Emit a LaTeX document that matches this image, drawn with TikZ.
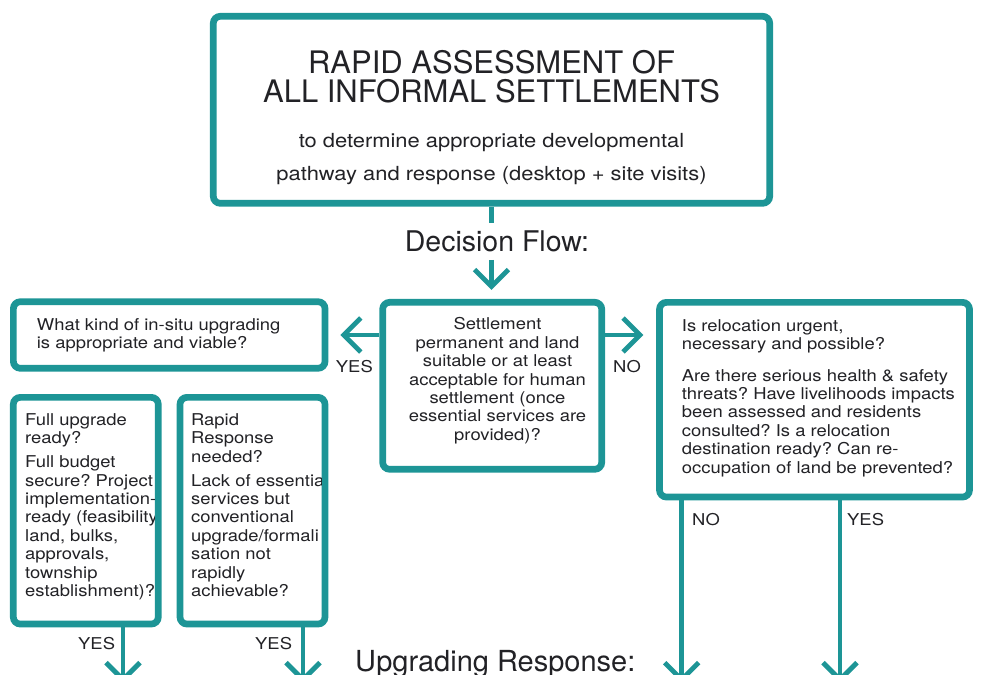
\documentclass[tikz,border=0pt]{standalone}
\usepackage{fontspec}
\setmainfont{TeX Gyre Heros}
\newfontfamily\headfont{TeX Gyre Heros}
\newfontfamily\bodyfont{TeX Gyre Heros}[FakeStretch=1.13]
\usetikzlibrary{arrows.meta,calc}
\definecolor{frameteal}{RGB}{29,149,150}
\definecolor{ink}{RGB}{34,34,38}
\frenchspacing

\begin{document}
\begin{tikzpicture}[x=1pt,y=-1pt,
  box/.style={draw=frameteal, line width=6.7pt, rounded corners=7pt, fill=white, inner sep=0pt},
  conn/.style={draw=frameteal, line width=4.8pt},
  flow/.style={conn, -{Straight Barb[length=17pt,width=34pt]}},
  body/.style={font=\bodyfont\fontsize{16.3}{18.4}\selectfont, text=ink, inner sep=0pt},
  tag/.style={body, anchor=base west},
  heading/.style={font=\headfont\fontsize{28.5}{34}\selectfont, text=ink, inner sep=7.5pt, anchor=base}]
\useasboundingbox (0,0) rectangle (986,675);

% frames
\node[box, minimum width=556.4pt, minimum height=187pt] (top) at (491.5,109.8) {};
\node[box, minimum width=219.1pt, minimum height=167pt] (q0) at (492.2,385.8) {};
\node[box, minimum width=311.7pt, minimum height=66.6pt] (insitu) at (169.2,335) {};
\node[box, minimum width=310pt, minimum height=194.7pt] (reloc) at (814.5,399.7) {};
\node[box, minimum width=145pt, minimum height=226.7pt] (full) at (85.8,510.7) {};
\node[box, minimum width=145pt, minimum height=226.7pt] (rapid) at (252.5,510.7) {};

% assessment box text
\node[font=\headfont\fontsize{31}{29.3}\selectfont, text=ink, inner sep=0pt, anchor=north, align=center]
  (title) at (491.5,50) {RAPID ASSESSMENT OF\\ALL INFORMAL SETTLEMENTS};
\node[font=\bodyfont\fontsize{19.4}{33.3}\selectfont, text=ink, inner sep=0pt, anchor=north, align=center]
  (subtitle) at (491.5,132.8) {to determine appropriate developmental\\pathway and response (desktop + site visits)};

% section headings
\node[heading] (dflow) at (497,251.7) {Decision Flow:};
\node[heading, font=\headfont\fontsize{29}{34}\selectfont, anchor=base west, inner sep=0pt] (uresp) at (355,671) {Upgrading Response:};

% question texts
\node[body, anchor=north west, align=left] (insitutxt) at (36.7,318.3)
  {What kind of in-situ upgrading\\is appropriate and viable?};
\node[body, anchor=north, align=center] (q0txt) at (497.5,317.6)
  {Settlement\\permanent and land\\suitable or at least\\acceptable for human\\settlement (once\\essential services are\\provided)?};
\node[body, anchor=north west, align=left] (reloctxt) at (681.7,319)
  {Is relocation urgent,\\necessary and possible?\\[13.3pt]Are there serious health \& safety\\threats? Have livelihoods impacts\\been assessed and residents\\consulted? Is a relocation\\destination ready? Can re-\\occupation of land be prevented?};

\begin{scope}
  \clip ($(full.south west)+(6.7pt,6.7pt)$) rectangle ($(full.north east)-(6.7pt,6.7pt)$);
  \node[body, anchor=north west, align=left] (fulltxt) at (25,413.3)
    {Full upgrade\\ready?\\[5.6pt]Full budget\\secure? Project\\implementation-\\ready (feasibility,\\land, bulks,\\approvals,\\township\\establishment)?};
\end{scope}
\begin{scope}
  \clip ($(rapid.south west)+(6.7pt,6.7pt)$) rectangle ($(rapid.north east)-(6.7pt,6.7pt)$);
  \node[body, anchor=north west, align=left] (rapidtxt) at (191,413.3)
    {Rapid\\Response\\needed?\\[5.6pt]Lack of essential\\services but\\conventional\\upgrade/formali\\sation not\\rapidly\\achievable?};
\end{scope}

% connectors
\draw[conn] (top.south) -- (top.south |- dflow.north);
\draw[flow, shorten >=9pt] (top.south |- dflow.south) -- (top.south |- q0.north);
\draw[flow, shorten >=12pt] (insitu.east -| q0.west) -- (insitu.east);
\draw[flow, shorten >=12.7pt] (insitu.east -| q0.east) -- (insitu.east -| reloc.west);

\coordinate (fullend) at (123,683);
\coordinate (rapidend) at (303,683);
\coordinate (stayend) at (681.7,683);
\coordinate (moveend) at (840,683);
\draw[flow] (full.south -| fullend) -- (fullend);
\draw[flow] (rapid.south -| rapidend) -- (rapidend);
\draw[flow] (reloc.south -| stayend) -- (stayend);
\draw[flow] (reloc.south -| moveend) -- (moveend);

% branch labels
\node[tag, anchor=base east] (yesq) at (373,372.7) {YES};
\node[tag] (noq) at (613,372.7) {NO};
\node[tag] (noreloc) at (692,525) {NO};
\node[tag] (yesreloc) at (847,525) {YES};
\node[tag] (yesfull) at (78,649.3) {YES};
\node[tag] (yesrapid) at (255,649.3) {YES};
\end{tikzpicture}
\end{document}
